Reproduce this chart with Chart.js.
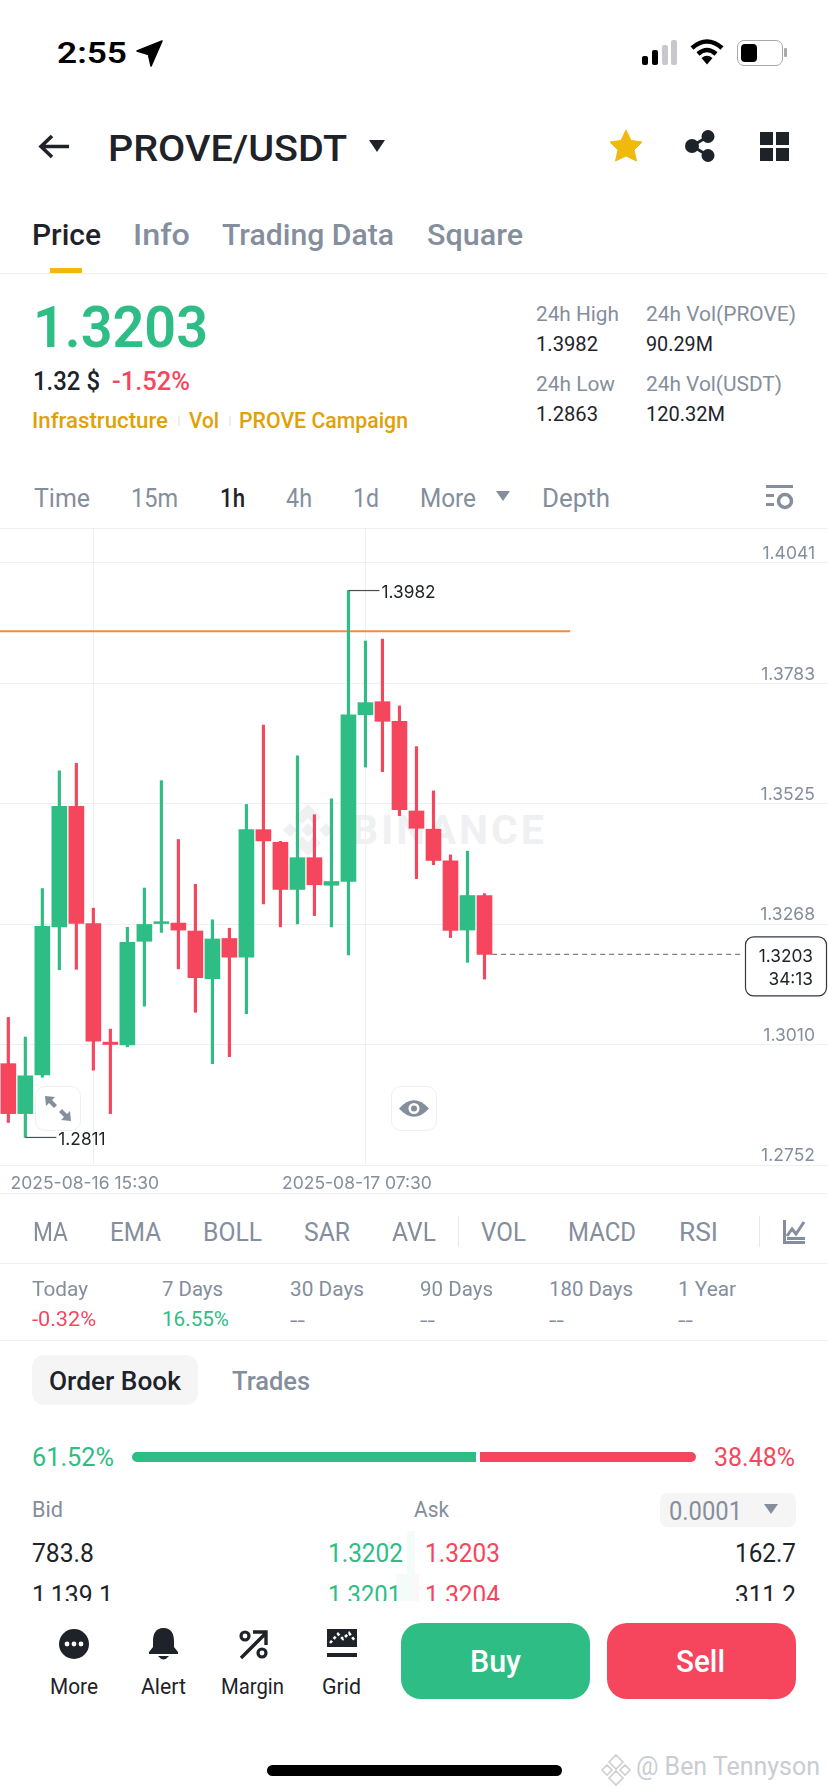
<!DOCTYPE html>
<html><head><meta charset="utf-8">
<script src="https://cdn.jsdelivr.net/npm/chart.js@4"></script>
<style>
html,body{margin:0;padding:0;background:#fff;width:828px;height:1792px;overflow:hidden;font-family:Roboto,sans-serif}
#app{position:relative;width:828px;height:1792px;overflow:hidden;background:#fff}
.t{position:absolute;white-space:nowrap;line-height:1;transform-origin:left center}
.b{position:absolute}
svg{position:absolute;overflow:visible}
#wrap{position:absolute;left:0;top:528px;width:828px;height:665px}
</style></head><body><div id="app">
<div class="b" id="wm" style="left:0;top:0"></div>
<div id="wrap"><canvas id="c" width="828" height="665" style="width:828px;height:665px"></canvas></div>
<div id="ui"></div>
</div>
<script>
const hours=["08-16 10:30","08-16 11:30","08-16 12:30","08-16 13:30","08-16 14:30","2025-08-16 15:30","08-16 16:30","08-16 17:30","08-16 18:30","08-16 19:30","08-16 20:30","08-16 21:30","08-16 22:30","08-16 23:30","08-17 00:30","08-17 01:30","08-17 02:30","08-17 03:30","08-17 04:30","08-17 05:30","08-17 06:30","2025-08-17 07:30","08-17 08:30","08-17 09:30","08-17 10:30","08-17 11:30","08-17 12:30","08-17 13:30","08-17 14:30"];
const open =[1.2969,1.2862,1.2945,1.3262,1.3520,1.3269,1.3015,1.3009,1.3231,1.3269,1.3270,1.3253,1.3151,1.3237,1.3197,1.3470,1.3443,1.3342,1.3410,1.3351,1.3359,1.3716,1.3744,1.3702,1.3510,1.3471,1.3403,1.3255,1.3329];
const close=[1.2862,1.2943,1.3263,1.3520,1.3269,1.3017,1.3010,1.3229,1.3267,1.3273,1.3255,1.3153,1.3236,1.3197,1.3470,1.3446,1.3342,1.3410,1.3352,1.3359,1.3716,1.3742,1.3702,1.3513,1.3473,1.3404,1.3254,1.3329,1.3203];
const high =[1.3068,1.3026,1.3344,1.3596,1.3612,1.3302,1.3043,1.3261,1.3345,1.3575,1.3449,1.3353,1.3277,1.3259,1.3524,1.3694,1.3445,1.3628,1.3502,1.3536,1.3982,1.3874,1.3878,1.3735,1.3648,1.3553,1.3416,1.3424,1.3333];
const low  =[1.2843,1.2811,1.2940,1.3170,1.3171,1.2955,1.2862,1.3005,1.3092,1.3250,1.3172,1.3079,1.2969,1.2984,1.3076,1.3311,1.3262,1.3268,1.3286,1.3262,1.3202,1.3604,1.3594,1.3500,1.3365,1.3395,1.3239,1.3186,1.3150];
const yTickLabels=["1.2752","1.3010","1.3268","1.3525","1.3783","1.4041"];
const xTickIndex=[5,21];
const markLevel=1.3895;
const lastPrice=1.3203;
const countdown="34:13";

const GREEN='#2EBD85',RED='#F6465D',GRAY='#848E9C',DARK='#1E2329';
const colors=open.map((o,i)=>close[i]>=o?GREEN:RED);
const yMax=1.41159,yMin=1.2752,xMin=-0.49,xMax=48.2;

const overlay={id:'overlay',afterDatasetsDraw(ch){
  const {ctx,scales:{x,y}}=ch;
  const f='17.3px Inter, Roboto, sans-serif';
  ctx.save();
  ctx.font=f;ctx.textBaseline='middle';
  const hiIdx=high.indexOf(Math.max(...high)),loIdx=low.indexOf(Math.min(...low));
  const mark=(i,v)=>{const px=x.getPixelForValue(i),py=y.getPixelForValue(v);
    ctx.strokeStyle='#4a4f57';ctx.lineWidth=1.2;ctx.beginPath();ctx.moveTo(px,py);ctx.lineTo(px+31,py);ctx.stroke();
    ctx.fillStyle=DARK;ctx.textAlign='left';ctx.fillText(v.toFixed(4),px+33,py+2);};
  mark(hiIdx,high[hiIdx]);mark(loIdx,low[loIdx]);
  const py=y.getPixelForValue(lastPrice);
  const bx=745,bw=82,bh=59;
  ctx.beginPath();ctx.roundRect(bx+.5,py-17.5,bw-1,bh,8);ctx.fillStyle='#fff';ctx.fill();ctx.strokeStyle='#33383f';ctx.lineWidth=1.2;ctx.stroke();
  ctx.fillStyle=DARK;ctx.textAlign='right';
  ctx.fillText(lastPrice.toFixed(4),813,py+2);
  ctx.fillText(countdown,813,py+25);
  ctx.restore();
}};

new Chart(document.getElementById('c'),{
  type:'bar',
  data:{datasets:[
    {label:'wick',data:hours.map((h,i)=>({x:i,y:[low[i],high[i]]})),backgroundColor:colors,barThickness:2.5,grouped:false,order:2},
    {label:'body',data:hours.map((h,i)=>({x:i,y:[open[i],close[i]]})),backgroundColor:colors,barThickness:15,grouped:false,order:1},
    {type:'line',label:'mark',data:[{x:xMin,y:markLevel},{x:33.04,y:markLevel}],borderColor:'#F58A3C',borderWidth:2,pointRadius:0,order:3},
    {type:'line',label:'last',data:[{x:28.45,y:lastPrice},{x:43.15,y:lastPrice}],borderColor:'#7a8088',borderWidth:1.2,borderDash:[5,4],pointRadius:0,order:3}
  ]},
  options:{
    responsive:false,animation:false,devicePixelRatio:1,
    layout:{padding:0,autoPadding:false},
    plugins:{legend:{display:false},tooltip:{enabled:false}},
    scales:{
      x:{type:'linear',min:xMin,max:xMax,offset:false,
        afterBuildTicks:s=>{s.ticks=xTickIndex.map(v=>({value:v}));},
        afterFit:s=>{s.height=28;},
        grid:{offset:false,color:'#EFF0F2',lineWidth:1,drawTicks:false},border:{display:false},
        ticks:{autoSkip:false,maxRotation:0,padding:8,labelOffset:-8.5,color:GRAY,font:{family:'Inter, Roboto, sans-serif',size:17.5},callback:v=>hours[v]}},
      y:{position:'right',min:yMin,max:yMax,
        afterBuildTicks:s=>{s.ticks=yTickLabels.map(v=>({value:+v}));},
        afterFit:s=>{s.width=0;},
        grid:{color:'#EFF0F2',lineWidth:1,drawTicks:false},border:{display:false},
        ticks:{mirror:true,crossAlign:'near',autoSkip:false,padding:-13,labelOffset:-9,color:GRAY,font:{family:'Inter, Roboto, sans-serif',size:17.5},callback:v=>(+v).toFixed(4)}}
    }
  },
  plugins:[overlay]
});

/* app chrome */
const ui=document.getElementById('ui');
function t(s,x0,x1,y,size,color,weight){
  const e=document.createElement('div');e.className='t';e.textContent=s;
  e.style.cssText=`left:${x0}px;top:${y-size/2}px;font-size:${size}px;color:${color};font-weight:${weight||400}`;
  ui.appendChild(e);
  const w=e.getBoundingClientRect().width;
  if(x1) e.style.transform=`scaleX(${(x1-x0)/w})`;
}
function box(x,y,w,h,bg,r,z){const e=document.createElement('div');e.className='b';
  e.style.cssText=`left:${x}px;top:${y}px;width:${w}px;height:${h}px;background:${bg};border-radius:${r||0}px`;ui.appendChild(e);return e;}
function svg(x,y,w,h,vb,inner){ui.insertAdjacentHTML('beforeend',`<svg style="left:${x}px;top:${y}px" width="${w}" height="${h}" viewBox="${vb}">${inner}</svg>`);}

// status bar
t('2:55',57,127,53,30,'#000',600);
svg(137,41,25,25,'0 0 24 24','<path d="M24 0 L0 9.5 L11 13 L13.5 24 Z" fill="#000" stroke="#000" stroke-width="1.5" stroke-linejoin="round"/>');
box(642,56,6,9,'#000',2);box(652,50,6,15,'#000',2);box(662,45,6,20,'#c8c8cc',2);box(671,40,6,25,'#c8c8cc',2);
svg(690,39,34,26,'0 0 34 26','<path d="M2 9 Q17 -4 32 9" fill="none" stroke="#000" stroke-width="4.5"/><path d="M8 15 Q17 7 26 15" fill="none" stroke="#000" stroke-width="4.5"/><path d="M11.5 19 Q17 14.5 22.5 19 L17 25.5 Z" fill="#000"/>');
box(737,40,44,24,'transparent',7).style.border='1.5px solid #a9a9ae';
box(741,44,16,18,'#000',4);box(784,48,2.5,9,'#a9a9ae',1);

// nav
svg(38,134,32,25,'0 0 32 25','<path d="M31 12.5 H3 M14 2 L3 12.5 L14 23" fill="none" stroke="#1E2329" stroke-width="3.6"/>');
t('PROVE/USDT',108,347,149,36,DARK,500);
svg(369,140,16,12,'0 0 16 12','<path d="M0 0H16L8 12Z" fill="#1E2329"/>');
svg(609,129,34,33,'0 0 34 33','<path d="M17 1 L22 11.5 L33 13 L25 21 L27.5 32 L17 27 L6.5 32 L9 21 L1 13 L12 11.5 Z" fill="#F0B90B" stroke="#F0B90B" stroke-linejoin="round"/>');
svg(685,130,30,32,'0 0 30 32','<g fill="#1E2329"><circle cx="7" cy="16" r="7"/><circle cx="23" cy="6.5" r="6.5"/><circle cx="23" cy="25.5" r="6.5"/></g><path d="M7 16 L23 6.5 M7 16 L23 25.5" stroke="#1E2329" stroke-width="3"/>');
box(760,132,13,13,DARK);box(776,132,13,13,DARK);box(760,148,13,13,DARK);box(776,148,13,13,DARK);

// tabs
t('Price',32,101,235,30,DARK,500);
t('Info',133,190,235,30,GRAY,500);
t('Trading Data',222,394,235,30,GRAY,500);
t('Square',427,523,235,30,GRAY,500);
box(50,268,32,5.5,'#F0B90B');
box(0,273,828,1,'#EEEFF1');

// price block
t('1.3203',33,208,327,58,GREEN,600);
t('1.32 $',33,100,381,26,DARK,500);
t('-1.52%',112,190,381,26,RED,500);
const GOLD='#E0A106';
t('Infrastructure',32,168,421,22,GOLD,500);
t('Vol',189,219,421,22,GOLD,500);
t('PROVE Campaign',239,408,421,22,GOLD,500);
box(178,416,1.5,10,'#eee');box(229,416,1.5,10,'#eee');
t('24h High',536,619,314,21,GRAY);
t('24h Vol(PROVE)',646,796,314,21,GRAY);
t('1.3982',536,598,344,21,DARK);
t('90.29M',646,713,344,21,DARK);
t('24h Low',536,615,384,21,GRAY);
t('24h Vol(USDT)',646,782,384,21,GRAY);
t('1.2863',536,598,414,21,DARK);
t('120.32M',646,725,414,21,DARK);

// timeframe row
t('Time',34,90,498,25,GRAY);
t('15m',131,178,498,25,GRAY);
t('1h',220,245,498,25,DARK,500);
t('4h',286,312,498,25,GRAY);
t('1d',353,379,498,25,GRAY);
t('More',420,476,498,25,GRAY);
svg(496,491,14,10,'0 0 14 10','<path d="M0 0H14L7 10Z" fill="#848E9C"/>');
t('Depth',542,610,498,25,GRAY);
svg(766,485,28,26,'0 0 28 26','<g fill="#848E9C"><rect x="0" y="0" width="27" height="3"/><rect x="0" y="9" width="8" height="3"/><rect x="0" y="18" width="8" height="3"/></g><circle cx="19" cy="16" r="6.5" fill="none" stroke="#848E9C" stroke-width="3.5"/>');
box(0,528,828,1,'#EEEFF1');

// chart watermark (behind canvas)
const wm=document.getElementById('wm');
wm.innerHTML='<svg style="left:283px;top:804px" width="50" height="52" viewBox="0 0 50 52"><path d="M25 0 L38 13 L31 20 L25 14 L19 20 L12 13 Z M25 52 L12 39 L19 32 L25 38 L31 32 L38 39 Z M0 26 L7 19 L14 26 L7 33 Z M36 26 L43 19 L50 26 L43 33 Z M25 19 L32 26 L25 33 L18 26 Z" fill="#EFF0F2"/></svg><div class="t" style="left:352px;top:810px;font-size:41px;font-weight:700;color:#EFF0F2;letter-spacing:3px">BINANCE</div>';

// chart buttons
function btn(x){const e=box(x,1086,46,45,'rgba(255,255,255,.85)',10);e.style.border='1.5px solid #EEEFF1';e.style.boxSizing='border-box';}
btn(35);btn(391);
svg(45,1096,26,25,'0 0 26 25','<path d="M0 0 L10 1 L7 4 L12 9 L9 12 L4 7 L1 10 Z M26 25 L16 24 L19 21 L14 16 L17 13 L22 18 L25 15 Z" fill="#848E9C"/>');
svg(398,1099,32,19,'0 0 32 19','<path d="M1 9.5 Q16 -7 31 9.5 Q16 26 1 9.5 Z" fill="#848E9C"/><circle cx="16" cy="9.5" r="5.5" fill="#fff"/><circle cx="16" cy="9.5" r="3" fill="#848E9C"/>');
box(0,1193,828,1,'#EEEFF1');

// indicators
[['MA',33,68],['EMA',110,161],['BOLL',203,262],['SAR',304,350],['AVL',392,436],['VOL',481,526],['MACD',568,636],['RSI',679,718]].forEach(a=>t(a[0],a[1],a[2],1232,25,GRAY));
box(458,1216,1.2,31,'#E6E8EA');box(759,1216,1.2,31,'#E6E8EA');
svg(783,1220,23,24,'0 0 23 24','<path d="M1.5 0V22.5H22" fill="none" stroke="#848E9C" stroke-width="3"/><path d="M4 16 L9 9 L13 14 L21 2" fill="none" stroke="#848E9C" stroke-width="3"/><rect x="4" y="17" width="18" height="3" fill="#848E9C"/>');
box(0,1263,828,1,'#EEEFF1');

// returns
[['Today',32,88],['7 Days',162,223],['30 Days',290,364],['90 Days',420,493],['180 Days',549,633],['1 Year',678,736]].forEach(a=>t(a[0],a[1],a[2],1289,21,GRAY));
t('-0.32%',32,96,1319,21,RED);
t('16.55%',162,229,1319,21,GREEN);
[290,420,549,678].forEach(x=>t('--',x,x+15,1320,21,GRAY));
box(0,1340,828,1,'#EEEFF1');

// order book tabs
box(32,1355,166,50,'#F5F5F5',12);
t('Order Book',49,181,1381,26,DARK,500);
t('Trades',232,310,1381,26,GRAY,500);

// ratio
t('61.52%',32,114,1457,25,GREEN);
t('38.48%',714,795,1457,25,RED);
box(132,1452,344,9.5,GREEN,0).style.borderRadius='5px 0 0 5px';
box(480,1452,216,9.5,RED,0).style.borderRadius='0 5px 5px 0';

// book
t('Bid',32,63,1510,22,GRAY);
t('Ask',414,449,1510,22,GRAY);
box(660,1493,136,34,'#F5F5F5',8);
t('0.0001',669,742,1511,25,GRAY);
svg(764,1504,14,10,'0 0 14 10','<path d="M0 0H14L7 10Z" fill="#848E9C"/>');
box(407,1531,7,43,'rgba(46,189,133,.05)');box(414,1531,1,43,'rgba(246,70,93,.05)');
box(396,1574,18,28,'rgba(46,189,133,.05)');box(414,1574,5,28,'rgba(246,70,93,.05)');
t('783.8',32,94,1553,25,DARK);
t('1.3202',328,403,1553,25,GREEN);
t('1.3203',425,500,1553,25,RED);
t('162.7',735,796,1553,25,DARK);
t('1,139.1',32,113,1595,25,DARK);
t('1.3201',328,401,1595,25,GREEN);
t('1.3204',425,500,1595,25,RED);
t('311.2',735,796,1595,25,DARK);
box(0,1601,828,191,'#fff');

// bottom bar
svg(59,1629,30,30,'0 0 30 30','<circle cx="15" cy="15" r="15" fill="#1E2329"/><circle cx="8" cy="15" r="2.4" fill="#fff"/><circle cx="15" cy="15" r="2.4" fill="#fff"/><circle cx="22" cy="15" r="2.4" fill="#fff"/>');
svg(149,1628,29,33,'0 0 29 33','<path d="M14.5 0 C6 0 4 7 4 13 V19 L0 24 V26 H29 V24 L25 19 V13 C25 7 23 0 14.5 0 Z M9 28 H20 Q14.5 35 9 28 Z" fill="#1E2329"/>');
svg(239,1630,29,29,'0 0 29 29','<circle cx="6" cy="6" r="4" fill="none" stroke="#1E2329" stroke-width="3.2"/><circle cx="23" cy="23" r="4" fill="none" stroke="#1E2329" stroke-width="3.2"/><path d="M2 28 L26 4 M14 2 H27 V15" fill="none" stroke="#1E2329" stroke-width="3.4"/>');
svg(327,1629,30,29,'0 0 30 29','<path d="M0 0H30V18H0Z" fill="#1E2329"/><path d="M3 14 L11 5 L16 10 L22 4 L28 12" fill="none" stroke="#fff" stroke-width="2.6" stroke-dasharray="3 2.5"/><rect y="24" width="30" height="4" fill="#1E2329"/>');
t('More',50,98,1687,22,DARK);
t('Alert',141,186,1687,22,DARK);
t('Margin',221,284,1687,22,DARK);
t('Grid',322,361,1687,22,DARK);
box(401,1623,189,76,GREEN,20);
box(607,1623,189,76,RED,20);
t('Buy',470,521,1661,32,'#fff',500);
t('Sell',676,725,1661,32,'#fff',500);

// home indicator + watermark
box(267,1765,295,11,'#000',6);
svg(601,1754,30,32,'0 0 30 32','<path d="M15 1 L22 8 L15 15 L8 8 Z M15 17 L22 24 L15 31 L8 24 Z M1 16 L6 11 L11 16 L6 21 Z M19 16 L24 11 L29 16 L24 21 Z" fill="none" stroke="#cfcfcf" stroke-width="1.6"/>');
t('@ Ben Tennyson',636,820,1766,26,'#c9cdd2');
</script>
</body></html>
